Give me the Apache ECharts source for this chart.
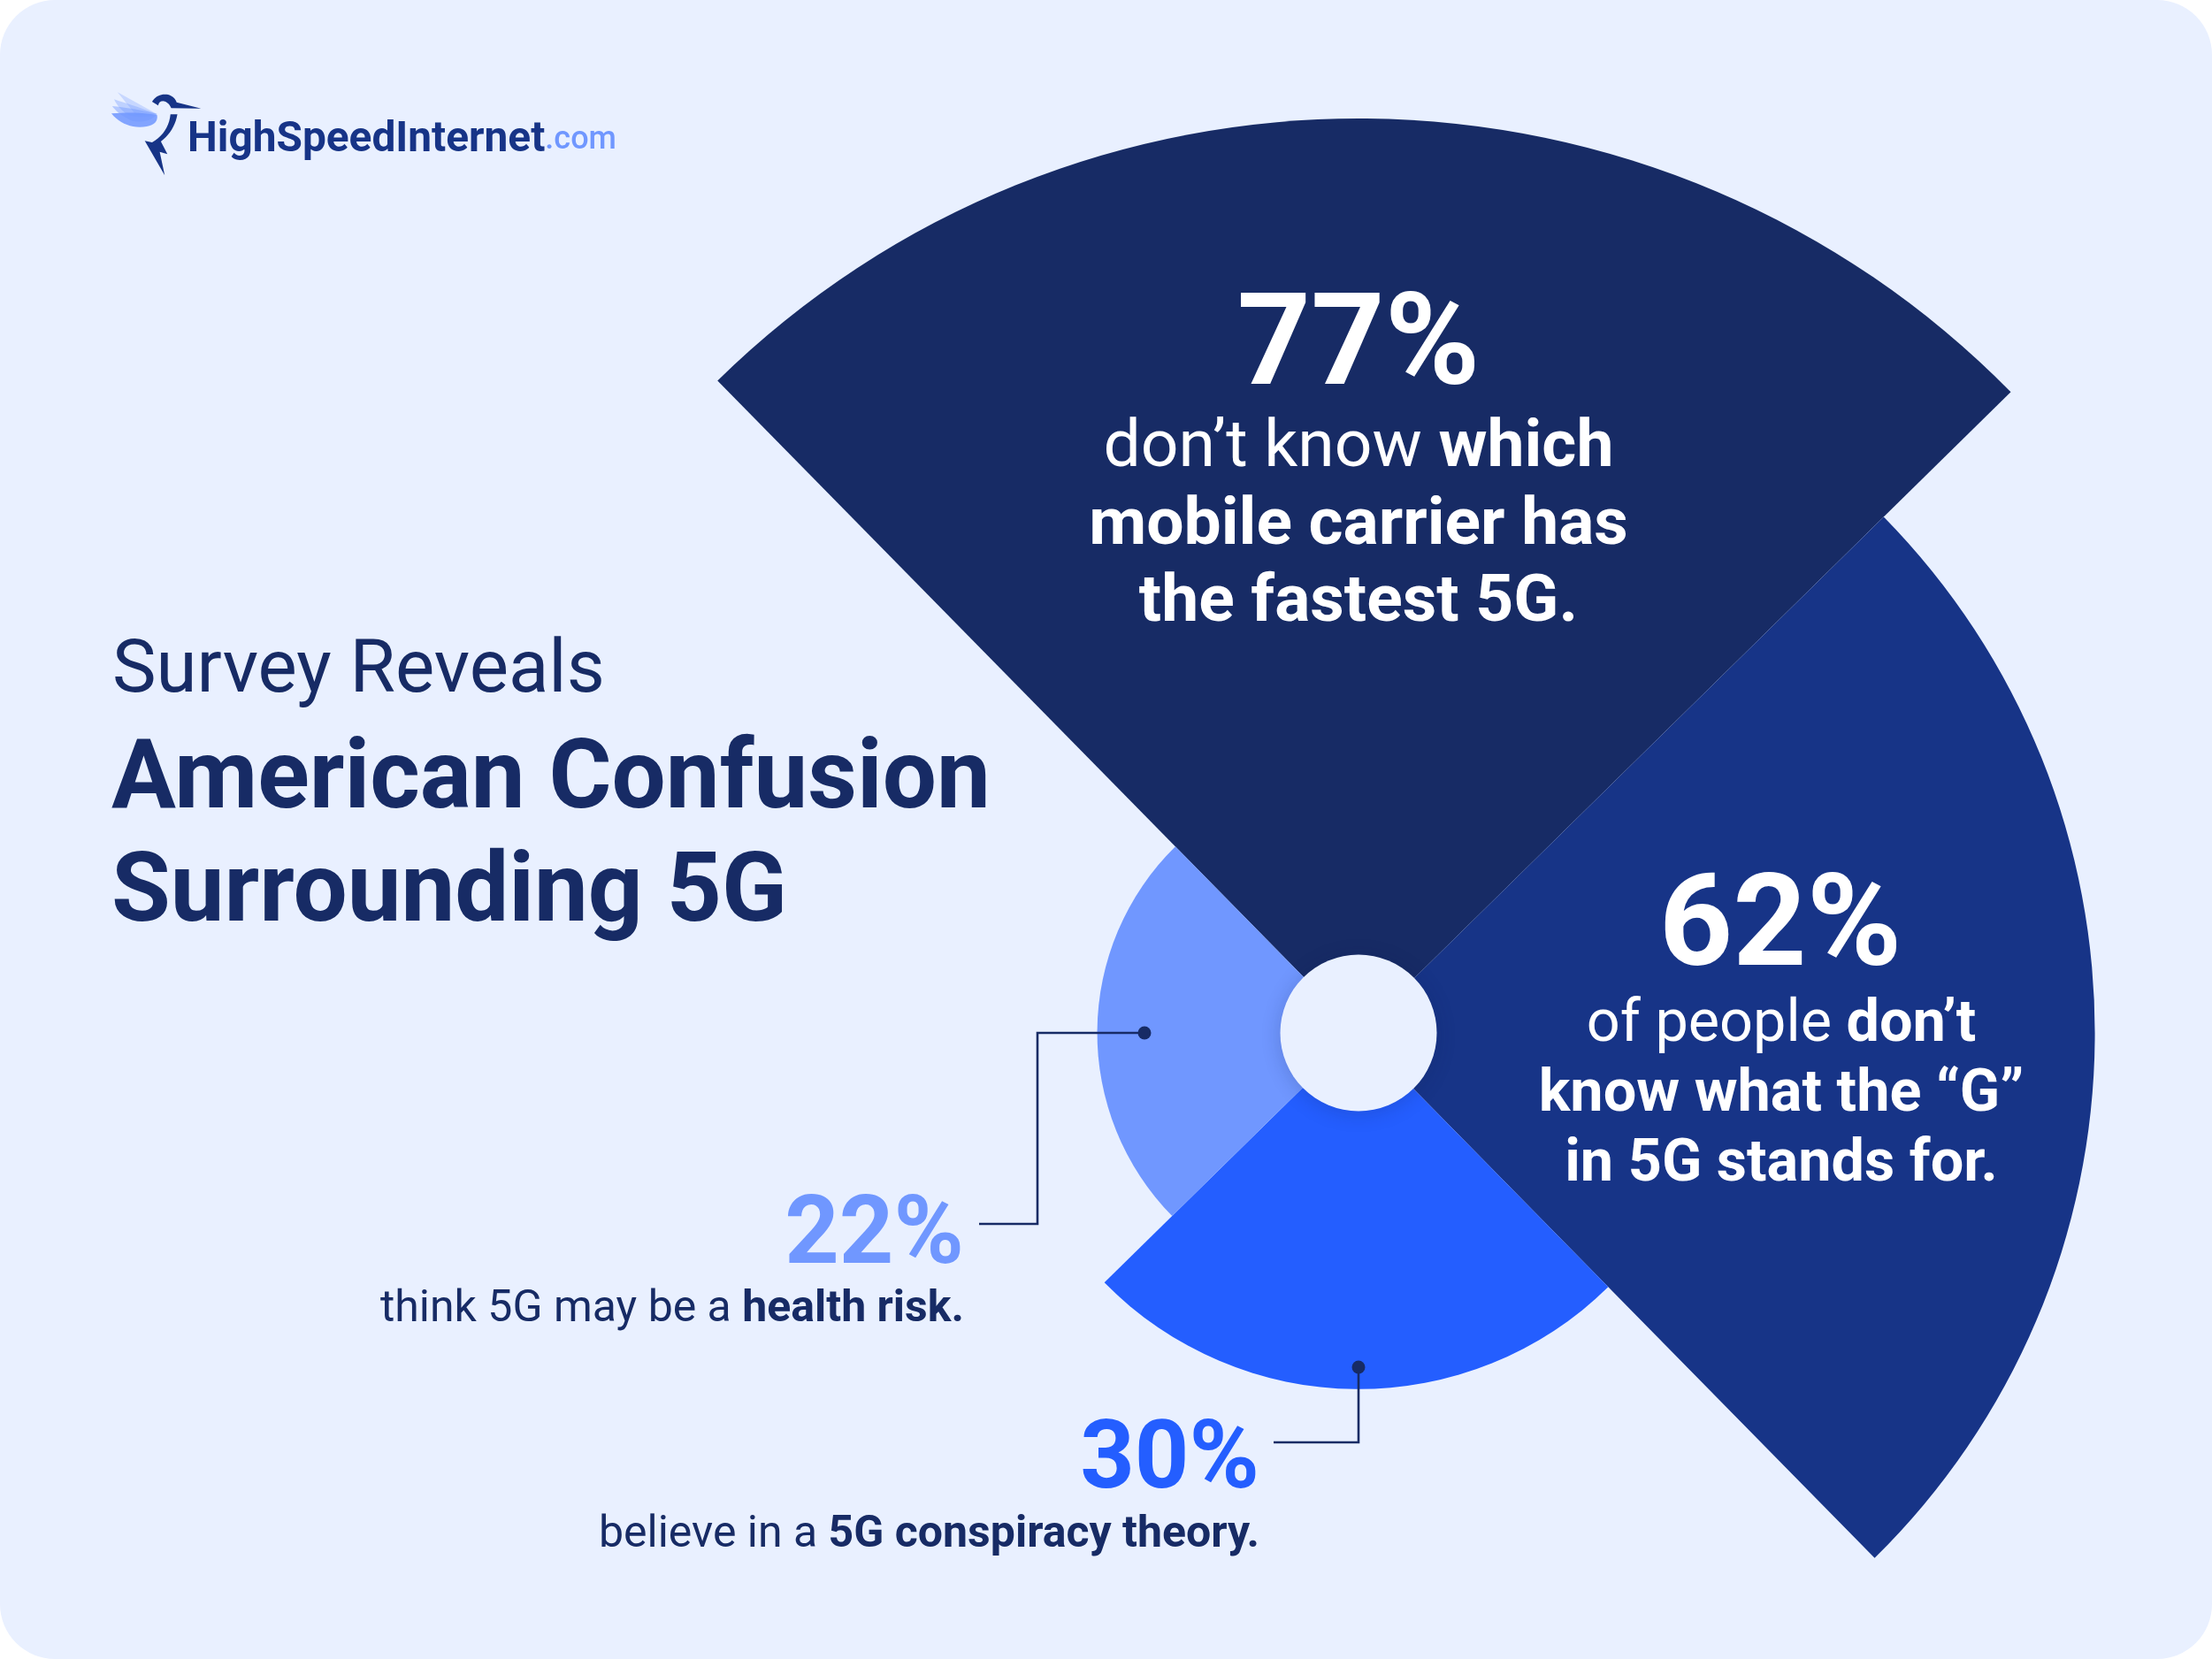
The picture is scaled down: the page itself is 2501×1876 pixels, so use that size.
<!DOCTYPE html>
<html><head><meta charset="utf-8">
<style>html,body{margin:0;padding:0;background:#fff}#c{position:absolute;left:0;top:0;width:2501px;height:1876px;background:#E9F0FF;border-radius:62px}</style>
<script src="https://cdn.jsdelivr.net/npm/echarts@6/dist/echarts.min.js"></script>
</head><body><div id="c"></div>
<script>
const categories = ['Mobile carrier', 'What the G stands for', 'Conspiracy theory', 'Health risk'];
const values = [77, 62, 30, 22];
const colors = ['#172B65', '#173487', '#245EFF', '#7097FF'];
const ink = '#172B65';
const carrierLines = ['{l|don’t know }{b|which}', '{b|mobile carrier has}', '{b|the fastest 5G.}'];
const gLines = ['{l|of people }{b|don’t}', '{b|know what the “G”}', '{b|in 5G stands for.}'];
const healthLine = '{l|think 5G may be a }{b|health risk.}';
const theoryLine = '{l|believe in a }{b|5G conspiracy theory.}';
const titleLines = ['Survey Reveals', 'American Confusion', 'Surrounding 5G'];
const F = 'Roboto';
const cx = 1536, cy = 1168, rMax = 1034;
const K = 0.26;

function txt(str, x, base, size, weight, color, align) {
  return { type: 'text', z: 60, style: { text: str, x: x, y: base - size * K,
    fontFamily: F, fontSize: size, fontWeight: weight, fill: color, align: align || 'left', verticalAlign: 'middle' } };
}
function rich(str, x, base, size, color, align) {
  const s = (w) => ({ fontFamily: F, fontSize: size, fontWeight: w, fill: color, color: color, lineHeight: size * 1.2 });
  return { type: 'text', z: 60, style: { text: str, x: x, y: base - size * K, align: align, verticalAlign: 'middle',
    rich: { l: s(400), b: s(700) } } };
}
function line(points) {
  return { type: 'polyline', z: 55, shape: { points: points }, style: { stroke: ink, lineWidth: 2.6, fill: null } };
}
function dot(x, y) {
  return { type: 'circle', z: 56, shape: { cx: x, cy: y, r: 7.5 }, style: { fill: ink } };
}
// logo glyph: flatten "M/L/Q" outlines into polygon points
function bird(d, fill, opacity) {
  const tk = d.trim().split(/\s+/), pts = [];
  let p = null;
  const xy = (s) => s.split(',').map(Number);
  for (let i = 0; i < tk.length; ) {
    const t = tk[i];
    if (t === 'M' || t === 'L') { p = xy(tk[i + 1]); pts.push(p); i += 2; }
    else if (t === 'Q') {
      const c = xy(tk[i + 1]), e = xy(tk[i + 2]);
      for (let k = 1; k <= 10; k++) { const u = k / 10, v = 1 - u;
        pts.push([v * v * p[0] + 2 * v * u * c[0] + u * u * e[0], v * v * p[1] + 2 * v * u * c[1] + u * u * e[1]]); }
      p = e; i += 3;
    } else i++;
  }
  return { type: 'polygon', z: 60, shape: { points: pts.map(q => [80 + q[0] / 2.306, 80 + q[1] / 3]) }, style: { fill: fill, opacity: opacity } };
}

const graphics = [
  { type: 'circle', z: 50, shape: { cx: cx, cy: cy, r: 88.5 },
    style: { fill: '#E9F0FF', shadowBlur: 22, shadowColor: 'rgba(15,30,80,0.2)', shadowOffsetY: 3 } },
  // logo
  bird('M 122,73 L 225,147 L 170,150 Z', '#7097FF', 0.28),
  bird('M 113,97 Q 170,120 225,147 Q 190,165 150,150 Q 125,130 113,97 Z', '#7097FF', 0.35),
  bird('M 108,120 Q 170,128 225,147 Q 205,180 160,170 Q 125,150 108,120 Z', '#7097FF', 0.45),
  bird('M 106,145 Q 170,138 225,150 Q 230,190 180,191 Q 135,190 106,145 Z', '#7097FF', 0.85),
  bird('M 212,105 Q 225,78 250,80 Q 270,85 276,107 L 340,128 L 262,127 Q 255,105 240,103 Q 230,103 228,118 Z', '#173487', 1),
  bird('M 260,148 L 278,148 Q 270,205 235,240 L 252,283 L 232,275 L 245,355 L 193,238 L 212,243 Q 255,210 260,148 Z', '#173487', 1),
  rich('{a|HighSpeedInternet}{c|.com}', 212, 171, 47, '#173487', 'left'),
  // title
  txt(titleLines[0], 127, 783, 83.5, 400, ink),
  txt(titleLines[1], 126, 914, 108.5, 700, ink),
  txt(titleLines[2], 126, 1042, 108.5, 700, ink),
  // 77
  txt(values[0] + '%', 1536, 435, 145.5, 700, '#fff', 'center'),
  rich(carrierLines[0], 1536, 528, 75, '#fff', 'center'),
  rich(carrierLines[1], 1536, 616, 75, '#fff', 'center'),
  rich(carrierLines[2], 1536, 703, 75, '#fff', 'center'),
  // 62
  txt(values[1] + '%', 2013, 1092, 145.5, 700, '#fff', 'center'),
  rich(gLines[0], 2014, 1178, 66.6, '#fff', 'center'),
  rich(gLines[1], 2014, 1257, 66.6, '#fff', 'center'),
  rich(gLines[2], 2014, 1336, 66.6, '#fff', 'center'),
  // 22
  txt(values[3] + '%', 1090, 1429, 107.5, 700, colors[3], 'right'),
  rich(healthLine, 1090, 1494, 50, ink, 'right'),
  line([[1107, 1384], [1173, 1384], [1173, 1168], [1294, 1168]]),
  dot(1294, 1168),
  // 30
  txt(values[2] + '%', 1424, 1683, 107.5, 700, colors[2], 'right'),
  rich(theoryLine, 1424, 1749, 50, ink, 'right'),
  line([[1440, 1631], [1536, 1631], [1536, 1546]]),
  dot(1536, 1546)
];
// logo text uses its own rich styles
const logo = graphics.find(g => g.style && g.style.rich && String(g.style.text).startsWith('{a|'));
logo.style.rich = {
  a: { fontFamily: F, fontSize: 47.8, fontWeight: 700, fill: '#173487', color: '#173487' },
  c: { fontFamily: F, fontSize: 36, fontWeight: 500, fill: '#7097FF', color: '#7097FF' }
};

const chart = echarts.init(document.getElementById('c'), null, { width: 2501, height: 1876 });
chart.setOption({
  animation: false,
  backgroundColor: 'transparent',
  series: [{
    type: 'pie', roseType: 'area', center: [cx, cy], radius: [0, rMax], startAngle: 134.5, clockwise: true,
    silent: true, label: { show: false }, labelLine: { show: false },
    data: categories.map((n, i) => ({ name: n, value: values[i], itemStyle: { color: colors[i] } }))
  }],
  graphic: { elements: graphics }
});
</script></body></html>
